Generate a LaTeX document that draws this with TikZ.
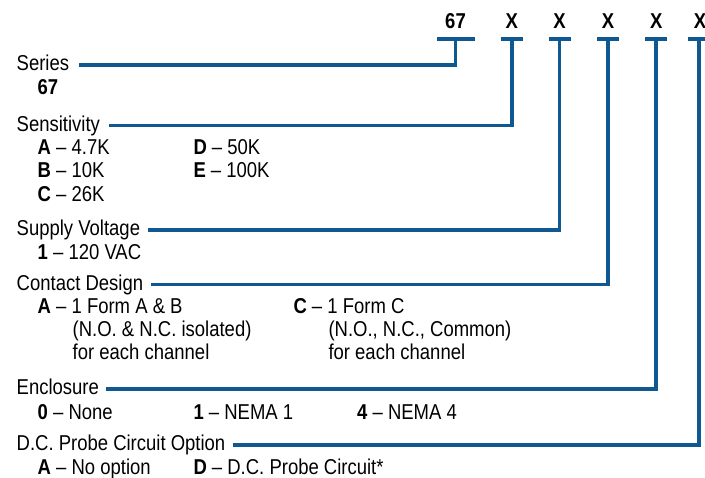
\documentclass[tikz,border=0pt]{standalone}
\usepackage{fontspec}
\setmainfont{Liberation Sans}[FakeStretch=0.86]
\definecolor{lineblue}{RGB}{16,88,145}
\tikzset{
  txt/.style={anchor=base west, inner sep=0pt, text height=12pt, text depth=0pt, font=\fontsize{21.5}{24}\selectfont},
  top/.style={anchor=base, inner sep=0pt, font=\fontsize{21.5}{24}\selectfont\bfseries},
  conn/.style={draw=lineblue, line width=3.8pt, line join=miter},
}
\begin{document}
\begin{tikzpicture}[x=1pt,y=-1pt]
\useasboundingbox (0,0) rectangle (705,478);
% top code
\node[top] (c67) at (455.5,28.3) {67};
\node[top] (x1) at (511.7,28.3) {X};
\node[top] (x2) at (559.5,28.3) {X};
\node[top] (x3) at (608,28.3) {X};
\node[top] (x4) at (656.3,28.3) {X};
\node[top] (x5) at (700,28.3) {X};
\coordinate (t0) at (455.5,38.7);
\coordinate (t1) at (511.7,38.7);
\coordinate (t2) at (559.5,38.7);
\coordinate (t3) at (608,38.7);
\coordinate (t4) at (656.3,38.7);
\coordinate (t5) at (699,38.7);
\draw[conn] ([xshift=-18.5]t0) -- ([xshift=19.5]t0);
\foreach \t in {t1,t2,t3,t4,t5}{
  \draw[conn] ([xshift=-11]\t) -- ([xshift=11]\t);
}
% Series
\node[txt] (series) at (16.5,70.7) {Series};
\node[txt] (s67) at (37.5,95) {\bfseries 67};
% Sensitivity
\node[txt] (sens) at (16.5,131.5) {Sensitivity};
\node[txt] (sa) at (37.5,155) {\bfseries A\mdseries\ -- 4.7K};
\node[txt] (sb) at (37.5,178) {\bfseries B\mdseries\ -- 10K};
\node[txt] (sc) at (37.5,201.5) {\bfseries C\mdseries\ -- 26K};
\node[txt] (sd) at (193.3,155) {\bfseries D\mdseries\ -- 50K};
\node[txt] (se) at (193.3,178) {\bfseries E\mdseries\ -- 100K};
% Supply
\node[txt] (supply) at (16.5,235.7) {Supply Voltage};
\node[txt] (sv1) at (37.5,260) {\bfseries 1\mdseries\ -- 120 VAC};
% Contact
\node[txt] (contact) at (16.5,290.5) {Contact Design};
\node[txt] (ca) at (37.5,313.5) {\bfseries A\mdseries\ -- 1 Form A \& B};
\node[txt] (ca2) at (72.5,337) {(N.O. \& N.C. isolated)};
\node[txt] (ca3) at (72.5,360) {for each channel};
\node[txt] (cc) at (293.3,313.5) {\bfseries C\mdseries\ -- 1 Form C};
\node[txt] (cc2) at (328.3,337) {(N.O., N.C., Common)};
\node[txt] (cc3) at (328.3,360) {for each channel};
% Enclosure
\node[txt] (encl) at (16.5,395) {Enclosure};
\node[txt] (e0) at (37.5,419.3) {\bfseries 0\mdseries\ -- None};
\node[txt] (e1) at (193.3,419.3) {\bfseries 1\mdseries\ -- NEMA 1};
\node[txt] (e4) at (357,419.3) {\bfseries 4\mdseries\ -- NEMA 4};
% DC probe
\node[txt] (dc) at (16.5,451) {D.C. Probe Circuit Option};
\node[txt] (da) at (37.5,475) {\bfseries A\mdseries\ -- No option};
\node[txt] (dd) at (193.3,475) {\bfseries D\mdseries\ -- D.C. Probe Circuit*};
% connectors
\draw[conn] ([xshift=10]series.east) -| (t0);
\draw[conn] ([xshift=9]sens.east) -| (t1);
\draw[conn] ([xshift=8]supply.east) -| (t2);
\draw[conn] ([xshift=8]contact.east) -| (t3);
\draw[conn] ([xshift=7]encl.east) -| (t4);
\draw[conn] ([xshift=7]dc.east) -| (t5);
\end{tikzpicture}
\end{document}
